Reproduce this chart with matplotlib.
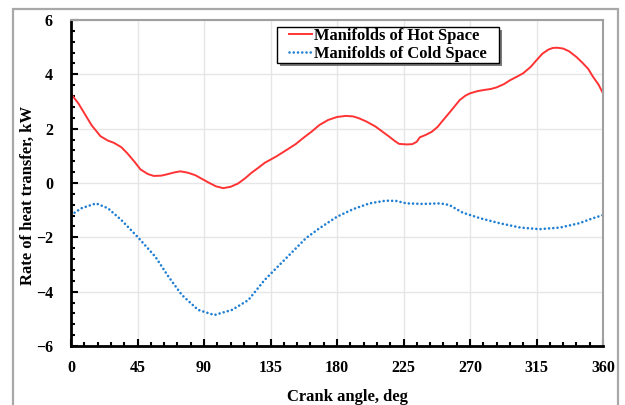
import numpy as np
import matplotlib
matplotlib.use("Agg")
from matplotlib import pyplot as plt
from matplotlib.patches import Rectangle
from matplotlib.ticker import MultipleLocator

# crank angle (deg) and heat transfer rate (kW) for the two manifolds
hot_angle = [0, 5, 9, 14, 20, 25, 29, 34, 38, 43, 47, 52, 56, 61, 65, 70, 74, 79,
             84, 88, 93, 98, 103, 108, 113, 118, 122, 127, 131, 139, 146, 152,
             157, 163, 168, 174, 180, 186, 191, 195, 200, 206, 211, 215, 219,
             222, 227, 231, 234, 236, 240, 244, 248, 251, 257, 263, 267, 270,
             275, 279, 284, 288, 293, 297, 302, 306, 311, 315, 319, 323, 326,
             329, 333, 337, 342, 346, 350, 353, 357, 360]
hot_rate = [3.28, 2.93, 2.57, 2.12, 1.72, 1.56, 1.48, 1.32, 1.10, 0.78, 0.50,
            0.33, 0.26, 0.27, 0.32, 0.39, 0.43, 0.38, 0.29, 0.17, 0.02, -0.12,
            -0.19, -0.14, -0.02, 0.18, 0.37, 0.57, 0.74, 0.98, 1.22, 1.43, 1.65,
            1.90, 2.13, 2.32, 2.43, 2.47, 2.45, 2.38, 2.26, 2.08, 1.88, 1.72,
            1.55, 1.44, 1.42, 1.43, 1.52, 1.68, 1.77, 1.88, 2.06, 2.26, 2.65,
            3.05, 3.22, 3.30, 3.38, 3.42, 3.46, 3.52, 3.64, 3.78, 3.92, 4.04,
            4.27, 4.52, 4.76, 4.91, 4.97, 4.98, 4.95, 4.85, 4.64, 4.43, 4.20,
            3.93, 3.62, 3.30]

cold_angle = [0, 7, 17, 25, 34, 45, 57, 66, 75, 86, 97, 109, 120, 131, 145, 159,
              168, 180, 191, 202, 213, 220, 227, 238, 250, 256, 265, 277, 290,
              304, 317, 331, 344, 353, 360]
cold_rate = [-1.18, -0.93, -0.75, -0.93, -1.36, -1.98, -2.71, -3.45, -4.12,
             -4.67, -4.86, -4.67, -4.31, -3.57, -2.80, -2.03, -1.67, -1.24,
             -0.96, -0.75, -0.65, -0.66, -0.75, -0.77, -0.75, -0.81, -1.09,
             -1.30, -1.48, -1.64, -1.70, -1.64, -1.48, -1.30, -1.18]

x_ticks = [0, 45, 90, 135, 180, 225, 270, 315, 360]
y_ticks = [-6, -4, -2, 0, 2, 4, 6]

plt.rcParams['font.family'] = 'Liberation Serif'
plt.rcParams['font.weight'] = 'bold'

W, H = 625, 405
fig = plt.figure(figsize=(W / 100, H / 100), dpi=100)
ax = fig.add_axes([71 / W, 1 - 346 / H, 532 / W, 326 / H])

# gray frame around the whole chart
fig.patches.append(Rectangle((13 / W, -0.05), 605 / W, 1.05 - 9 / H, transform=fig.transFigure,
                             fill=False, edgecolor='#a8a8a8', linewidth=1.6))

ax.plot(hot_angle, hot_rate, color='#ff3333', linewidth=1.4, label='Manifolds of Hot Space')
ax.plot(cold_angle, cold_rate, color='#1f7fd2', linewidth=1.9, linestyle=(0, (0.01, 1.6)),
        dash_capstyle='round', label='Manifolds of Cold Space')

ax.set_xlim(0, 360)
ax.set_ylim(-6, 6)
ax.set_xticks(x_ticks)
ax.set_yticks(y_ticks)
ax.xaxis.set_minor_locator(MultipleLocator(9))
ax.yaxis.set_minor_locator(MultipleLocator(0.4))
ax.grid(True, which='major', color='#e6e6e6', linewidth=1.0)
ax.set_axisbelow(True)

ax.tick_params(which='both', direction='in', top=False, right=False, width=1.5, colors='black')
ax.tick_params(which='major', length=5, labelsize=11.5)
ax.tick_params(axis='x', which='major', pad=10)
ax.tick_params(axis='y', which='major', pad=13)
ax.tick_params(which='minor', length=3)
for lbl in ax.get_xticklabels() + ax.get_yticklabels():
    lbl.set_fontweight('bold')

for side in ('left', 'bottom'):
    ax.spines[side].set_linewidth(2.0)
    ax.spines[side].set_color('black')
for side in ('top', 'right'):
    ax.spines[side].set_linewidth(1.5)
    ax.spines[side].set_color('#a0a0a0')

ax.set_xlabel('Crank angle, deg', fontsize=12, fontweight='bold', labelpad=9.5, x=0.519)
ax.set_ylabel('Rate of heat transfer, kW', fontsize=12, fontweight='bold', labelpad=0, y=0.463)

# legend box with a drop shadow
bx, by, bw, bh = 277 / W, 1 - 63 / H, 222 / W, 36 / H
ax.add_patch(Rectangle((bx + 3 / W, by - 3 / H), bw, bh, transform=fig.transFigure,
                       facecolor='#7a7a7a', edgecolor='none', clip_on=False, zorder=4))
ax.add_patch(Rectangle((bx, by), bw, bh, transform=fig.transFigure, facecolor='white',
                       edgecolor='black', linewidth=1.0, clip_on=False, zorder=4.5))

leg = ax.legend(loc='upper left', bbox_to_anchor=(289 / W, 1 - 28 / H),
                bbox_transform=fig.transFigure, frameon=False, handlelength=1.4,
                handletextpad=0.1, borderpad=0, labelspacing=0.1, borderaxespad=0,
                prop={'family': 'Liberation Serif', 'weight': 'bold', 'size': 11.9})
leg.set_zorder(5)

plt.savefig('out.png', dpi=100)
